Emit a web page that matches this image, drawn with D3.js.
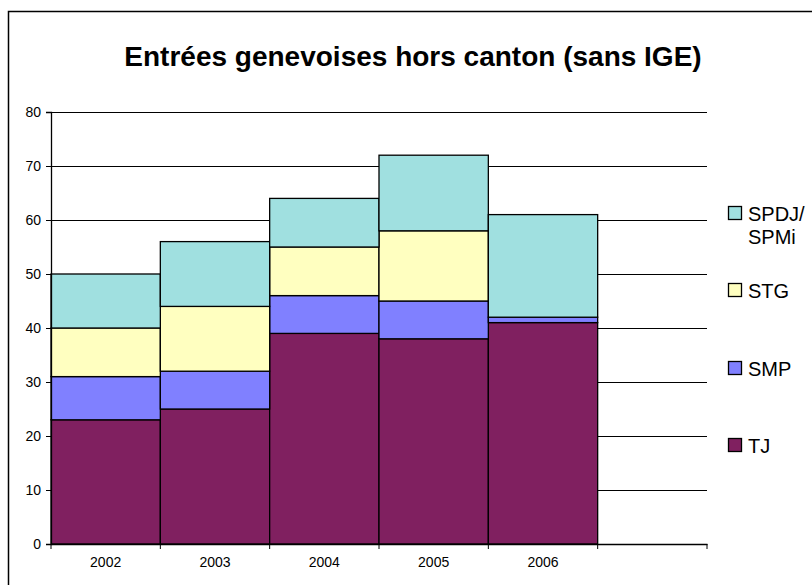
<!DOCTYPE html>
<html>
<head>
<meta charset="utf-8">
<style>
    body { margin: 0; background: #fff; }
    svg { display: block; }
    text { font-family: "Liberation Sans", Arial, sans-serif; fill: #000; }
    .grid line { stroke: #000; stroke-width: 1; }
</style>
</head>
<body>
<div id="chart"></div>
<script src="https://cdnjs.cloudflare.com/ajax/libs/d3/7.8.5/d3.min.js"></script>
<script>
    // categories (the last slot is empty in the original chart)
    const years = ["2002", "2003", "2004", "2005", "2006", ""];
    const seriesNames = ["TJ", "SMP", "STG", "SPDJ/SPMi"];
    const TJ   = [23, 25, 39, 38, 41];
    const SMP  = [8, 7, 7, 7, 1];
    const STG  = [9, 12, 9, 13, 0];
    const SPDJ = [10, 12, 9, 14, 19];
    const yTicks = [0, 10, 20, 30, 40, 50, 60, 70, 80];
    const colors = ["#802060", "#8080ff", "#ffffc0", "#a0e0e0"];

    const W = 812, H = 585;
    const margin = { top: 112, right: 105, bottom: 41, left: 51 };
    const font = "'Liberation Sans', Arial, sans-serif";

    const svg = d3.select("#chart").append("svg")
        .attr("width", W)
        .attr("height", H);

    // outer frame
    svg.append("rect")
        .attr("x", 8.5).attr("y", 11.5)
        .attr("width", W).attr("height", H)
        .attr("fill", "none")
        .attr("stroke", "#000")
        .attr("stroke-width", 1.5);

    const x = d3.scaleBand()
        .domain(years)
        .range([margin.left, W - margin.right])
        .padding(0);

    const y = d3.scaleLinear()
        .domain([0, 80])
        .range([H - margin.bottom, margin.top]);

    // gridlines
    svg.append("g")
        .attr("class", "grid")
        .selectAll("line")
        .data(yTicks.slice(1))
        .enter().append("line")
        .attr("x1", margin.left).attr("x2", W - margin.right)
        .attr("y1", d => Math.round(y(d)) + 0.5)
        .attr("y2", d => Math.round(y(d)) + 0.5);

    // stacked data
    const rows = years.slice(0, TJ.length).map((yr, i) => ({
        year: yr, "TJ": TJ[i], "SMP": SMP[i], "STG": STG[i], "SPDJ/SPMi": SPDJ[i]
    }));
    const stack = d3.stack().keys(seriesNames)(rows);

    svg.append("g").selectAll("g")
        .data(stack)
        .enter().append("g")
        .attr("fill", (d, i) => colors[i])
        .selectAll("rect")
        .data(d => d.filter(s => s[1] - s[0] > 0))
        .enter().append("rect")
        .attr("x", d => x(d.data.year))
        .attr("y", d => y(d[1]))
        .attr("width", x.bandwidth())
        .attr("height", d => y(d[0]) - y(d[1]))
        .attr("stroke", "#000")
        .attr("stroke-width", 1.3);

    // y axis
    const yAxis = svg.append("g")
        .attr("transform", `translate(${margin.left},0)`)
        .call(d3.axisLeft(y).tickValues(yTicks).tickSize(5).tickPadding(5))
        .attr("font-size", null).attr("font-family", null);
    yAxis.select(".domain").attr("stroke", "#000").attr("stroke-width", 1.3);
    yAxis.selectAll(".tick text").style("font-size", "14px").style("font-family", font);

    // x axis: labels centred in slots, ticks at slot edges
    const xAxis = svg.append("g")
        .attr("transform", `translate(0,${H - margin.bottom})`)
        .call(d3.axisBottom(x).tickSize(0).tickPadding(13))
        .attr("font-size", null).attr("font-family", null);
    xAxis.select(".domain").attr("stroke", "#000").attr("stroke-width", 1.3);
    xAxis.selectAll(".tick text").style("font-size", "14px").style("font-family", font);
    const edges = years.map(d => x(d)).concat([x(years[years.length - 1]) + x.bandwidth()]);
    xAxis.selectAll(".edge")
        .data(edges)
        .enter().append("line")
        .attr("x1", d => d).attr("x2", d => d)
        .attr("y1", 0).attr("y2", 5)
        .attr("stroke", "#000");

    // title
    svg.append("text")
        .attr("x", 413)
        .attr("y", 66)
        .attr("text-anchor", "middle")
        .style("font-size", "28px")
        .style("font-weight", "bold")
        .text("Entrées genevoises hors canton (sans IGE)");

    // legend (top to bottom, reversed order)
    const legendRows = [
        { name: "SPDJ/SPMi", lines: ["SPDJ/", "SPMi"], color: colors[3], cy: 213 },
        { name: "STG", lines: ["STG"], color: colors[2], cy: 290 },
        { name: "SMP", lines: ["SMP"], color: colors[1], cy: 368 },
        { name: "TJ", lines: ["TJ"], color: colors[0], cy: 445 }
    ];
    const legend = svg.append("g");
    const li = legend.selectAll("g")
        .data(legendRows)
        .enter().append("g")
        .attr("transform", d => `translate(728,${d.cy})`);
    li.append("rect")
        .attr("x", 0.5).attr("y", -6.5)
        .attr("width", 13).attr("height", 13)
        .attr("fill", d => d.color)
        .attr("stroke", "#000")
        .attr("stroke-width", 1.3);
    li.append("text")
        .attr("x", 20)
        .attr("y", 8)
        .style("font-size", "20px")
        .style("font-family", font)
        .selectAll("tspan")
        .data(d => d.lines)
        .enter().append("tspan")
        .attr("x", 20)
        .attr("dy", (d, i) => i === 0 ? 0 : 23)
        .text(d => d);
</script>
</body>
</html>
